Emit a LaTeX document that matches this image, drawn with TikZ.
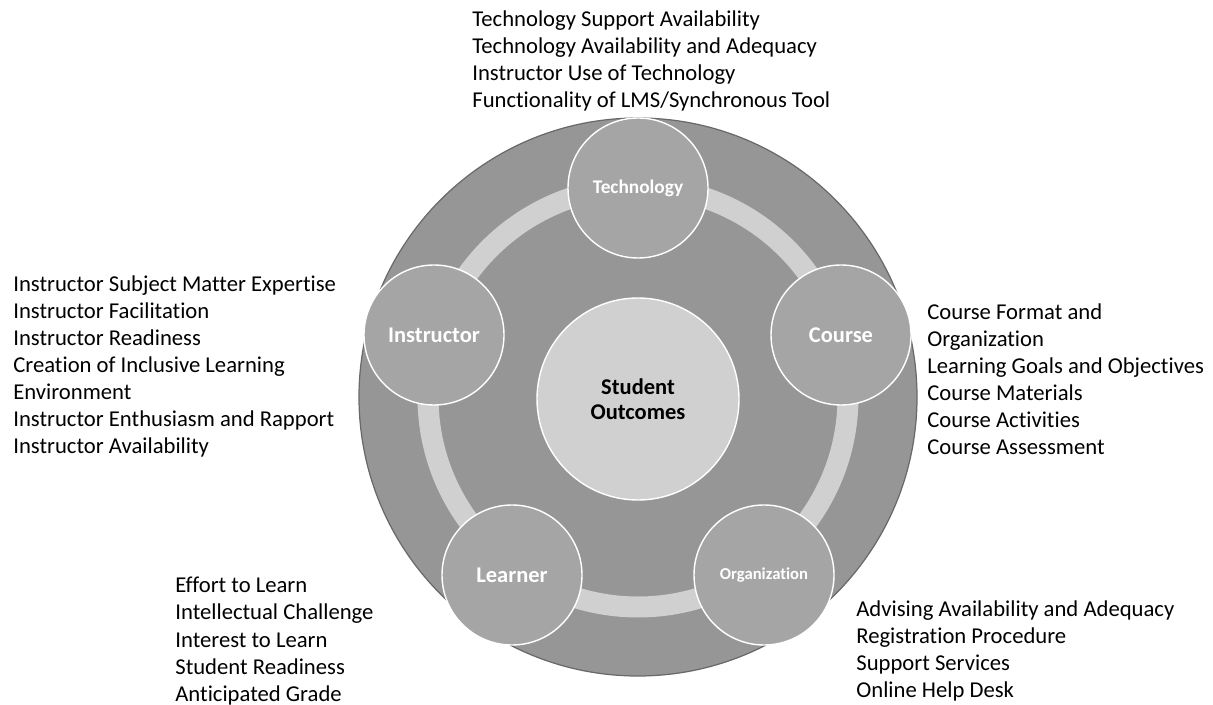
\documentclass[tikz,border=0pt]{standalone}
\usepackage{fontspec}
\setmainfont{Carlito}[Ligatures=NoCommon]
\definecolor{discfill}{RGB}{150,150,150}
\definecolor{discline}{RGB}{105,105,105}
\definecolor{ringfill}{RGB}{208,208,208}
\definecolor{factorfill}{RGB}{165,165,165}

\begin{document}
\begin{tikzpicture}[x=0.02cm, y=0.02cm]
  \tikzset{every node/.style={inner sep=0pt},
    factor/.style={text=white, font=\bfseries\fontsize{12.8}{14}\selectfont},
    itemlist/.style={anchor=north west, align=left, font=\fontsize{12.9}{15.4}\selectfont}}
  \useasboundingbox (0,0) rectangle (1213,-705);
  % outer disc and ring
  \draw [discline, fill=discfill, line width=0.7pt] (638,-397) circle (279);
  \draw [ringfill, line width=0.42cm] (638,-397) circle (210);
  % centre
  \draw [white, fill=ringfill, line width=0.8pt] (638,-399) circle (101);
  \node [align=center, font=\bfseries\fontsize{12.8}{14.5}\selectfont] (outcomes) at (638,-399) {Student\\Outcomes};
  % factors
  \draw [white, fill=factorfill, line width=0.8pt] (638,-188) circle (70);
  \node [factor, font=\bfseries\fontsize{11}{13}\selectfont] (tech) at (638,-188) {Technology};
  \draw [white, fill=factorfill, line width=0.8pt] (434,-335) circle (70);
  \node [factor] (instr) at (434,-335) {Instructor};
  \draw [white, fill=factorfill, line width=0.8pt] (841,-335) circle (70);
  \node [factor] (course) at (841,-335) {Course};
  \draw [white, fill=factorfill, line width=0.8pt] (512,-575) circle (70);
  \node [factor] (learner) at (512,-575) {Learner};
  \draw [white, fill=factorfill, line width=0.8pt] (764,-575) circle (70);
  \node [factor, font=\bfseries\fontsize{9.5}{11}\selectfont] (org) at (764,-575) {Organization};
  % lists
  \node [itemlist] (techlist) at (472,-10) {Technology Support Availability\\Technology Availability and Adequacy\\Instructor Use of Technology\\Functionality of LMS/Synchronous Tool};
  \node [itemlist] (instrlist) at (13,-275) {Instructor Subject Matter Expertise\\Instructor Facilitation\\Instructor Readiness\\Creation of Inclusive Learning\\Environment\\Instructor Enthusiasm and Rapport\\Instructor Availability};
  \node [itemlist] (courselist) at (927,-303) {Course Format and\\Organization\\Learning Goals and Objectives\\Course Materials\\Course Activities\\Course Assessment};
  \node [itemlist] (learnerlist) at (175,-577) {Effort to Learn\\Intellectual Challenge\\Interest to Learn\\Student Readiness\\Anticipated Grade};
  \node [itemlist] (orglist) at (856,-600) {Advising Availability and Adequacy\\Registration Procedure\\Support Services\\Online Help Desk};
\end{tikzpicture}
\end{document}
